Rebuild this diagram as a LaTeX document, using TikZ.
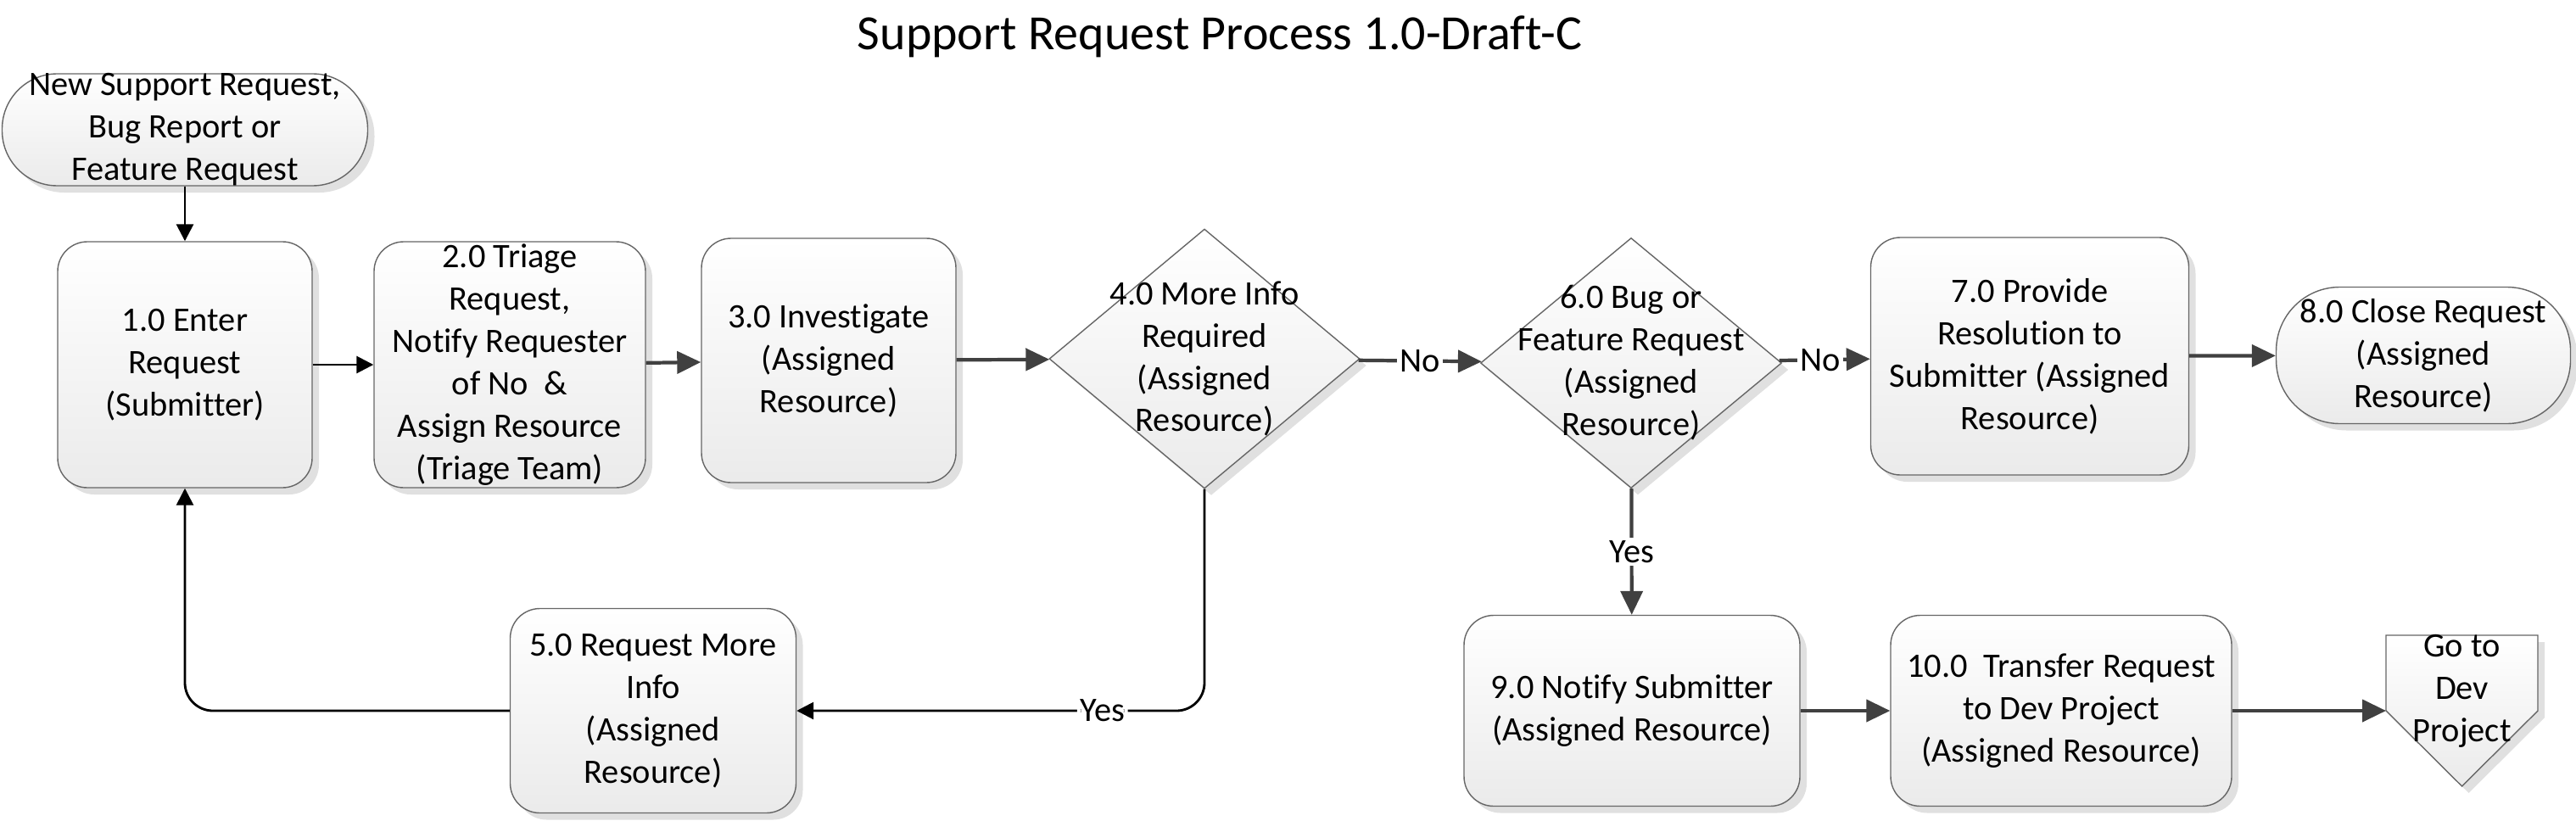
\documentclass[tikz,border=0pt]{standalone}
\usepackage{fontspec}
\setmainfont[Ligatures=NoCommon]{Carlito}
\usetikzlibrary{shapes.geometric,arrows.meta,shadows}

\begin{document}
\begin{tikzpicture}[
  font=\fontsize{11.5}{14.2}\selectfont,
  shape base/.style={draw=black!60, line width=0.4pt, top color=white, bottom color=black!8,
    drop shadow={shadow xshift=0.08cm, shadow yshift=-0.08cm, fill=black!12, opacity=1}},
  box/.style={shape base, rectangle, rounded corners=0.35cm, align=center, inner sep=0pt},
  term/.style={shape base, rectangle, rounded corners=0.65cm, align=center, inner sep=0pt},
  decision/.style={shape base, diamond, inner sep=0pt},
  link/.style={-{Triangle[length=0.2cm,width=0.2cm]}, line width=0.8pt, black},
  flow/.style={-{Triangle[length=0.28cm,width=0.26cm]}, line width=1.2pt, black!75},
  tag/.style={fill=white, text=black, inner sep=1pt}
]
\useasboundingbox (0,0) rectangle (30.37,-9.67);

\node[font=\fontsize{16.5}{20}\selectfont] (title) at (14.38,-0.43) {Support Request Process 1.0-Draft-C};

\node[term, minimum width=4.31cm, minimum height=1.32cm,
  label={[align=center]center:{New Support Request,\\Bug Report or\\Feature Request}}] (start) at (2.18,-1.53) {};
\node[box, minimum width=3.00cm, minimum height=2.90cm] (b1) at (2.18,-4.30) {1.0 Enter\\Request\\(Submitter)};
\node[box, minimum width=3.20cm, minimum height=2.90cm] (b2) at (6.01,-4.30) {2.0 Triage\\Request,\\Notify Requester\\of No\ \ \&\\Assign Resource\\(Triage Team)};
\node[box, minimum width=3.00cm, minimum height=2.88cm] (b3) at (9.77,-4.25) {3.0 Investigate\\(Assigned\\Resource)};
\node[decision, minimum width=3.66cm, minimum height=3.06cm,
  label={[align=center]center:{4.0 More Info\\Required\\(Assigned\\Resource)}}] (d4) at (14.20,-4.23) {};
\node[decision, minimum width=3.55cm, minimum height=2.95cm,
  label={[align=center]center:{6.0 Bug or\\Feature Request\\(Assigned\\Resource)}}] (d6) at (19.23,-4.28) {};
\node[box, minimum width=3.75cm, minimum height=2.80cm] (b7) at (23.93,-4.20) {7.0 Provide\\Resolution to\\Submitter (Assigned\\Resource)};
\node[term, rounded corners=0.75cm, minimum width=3.47cm, minimum height=1.61cm] (t8) at (28.57,-4.19) {8.0 Close Request\\(Assigned\\Resource)};
\node[box, minimum width=3.37cm, minimum height=2.41cm] (b5) at (7.70,-8.38) {5.0 Request More\\Info\\(Assigned\\Resource)};
\node[box, minimum width=3.96cm, minimum height=2.25cm] (b9) at (19.24,-8.38) {9.0 Notify Submitter\\(Assigned Resource)};
\node[box, minimum width=4.02cm, minimum height=2.25cm] (b10) at (24.30,-8.38) {10.0\ \ Transfer Request\\to Dev Project\\(Assigned Resource)};

\coordinate (offin) at (28.13,-8.38);
\path[shape base] (28.13,-7.49) -- (29.92,-7.49) -- (29.92,-8.38) -- (29.025,-9.27) -- (offin) -- cycle;
\node[align=center] (off) at (29.025,-8.15) {Go to\\Dev\\Project};

\draw[link] (start) -- (b1);
\draw[link] (b1) -- (b2);
\draw[flow] (b2) -- (b3);
\draw[flow] (b3) -- (d4);
\draw[flow] (d4) -- node[tag] {No} (d6);
\draw[flow] (d6) -- node[tag, pos=0.45] {No} (b7);
\draw[flow] (b7) -- (t8);
\draw[flow] (d6) -- node[tag] {Yes} (b9);
\draw[link, rounded corners=0.33cm] (d4.south) |- node[tag, pos=0.625] {Yes} (b5);
\draw[link, rounded corners=0.33cm] (b5) -| (b1);
\draw[flow] (b9) -- (b10);
\draw[flow] (b10) -- (offin);
\end{tikzpicture}
\end{document}
